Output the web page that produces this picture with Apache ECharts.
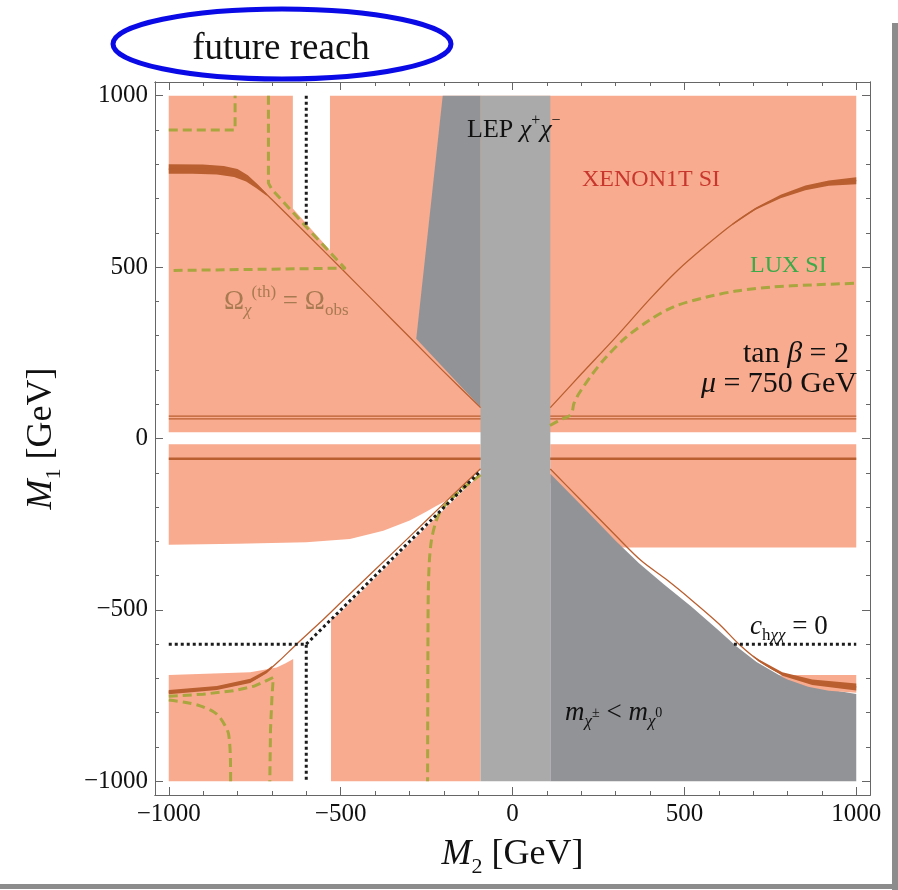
<!DOCTYPE html>
<html><head><meta charset="utf-8">
<script src="https://cdn.jsdelivr.net/npm/echarts@6/dist/echarts.min.js"></script>
<style>html,body{margin:0;padding:0;background:#fff}#c{width:898px;height:890px}</style>
</head><body><div id="c"></div>
<script>
// ---------------- data (GeV) ----------------
const majorTicks = [-1000, -500, 0, 500, 1000];
const minorTicks = [-1000,-900,-800,-700,-600,-500,-400,-300,-200,-100,0,100,200,300,400,500,600,700,800,900,1000];

// XENON1T SI excluded regions (salmon)
const salmonUpper = [[-1000,18],[-1000,1000],[-639,1000],[-639,671],[-531,549],[-531,1000],[1000,1000],[1000,18]];
const salmonMidLeft = [[-1000,-17],[-93,-17],[-93,-90],[-150,-145],[-190,-180],[-222,-197],[-250,-213],[-299,-239],[-376,-269],[-473,-293],[-600,-303],[-800,-307],[-1000,-310]];
const salmonMidRight = [[110,-17],[1000,-17],[1000,-318],[318,-318],[300,-330],[110,-130]];
const salmonLowA = [[-1000,-1000],[-638,-1000],[-638,-643],[-660,-656],[-686,-668],[-763,-682],[-1000,-690]];
const salmonLowB = [[-528,-1000],[-93,-1000],[-93,-103],[-200,-208],[-300,-308],[-400,-408],[-510,-517],[-522,-522],[-528,-528]];
const salmonStrip = [[782,-690],[1000,-690],[1000,-742],[920,-736],[860,-724],[800,-703],[782,-694]];

// LEP chargino band and m_chi+ < m_chi0 region
const lepBand = [[-93,-1000],[110,-1000],[110,1000],[-93,1000]];
const grayUpper = [[-203,1000],[-93,1000],[-93,91],[-280,291]];
const grayLower = [[110,-103],[200,-195],[300,-298],[368,-364],[440,-425],[520,-490],[600,-560],[650,-605],[710,-652],[775,-690],[860,-722],[1000,-745],[1000,-1000],[110,-1000]];

// relic density line (Omega_chi = Omega_obs)
const relicUL = [[-1000,786],[-900,785],[-840,781],[-800,773],[-770,758],[-740,735],[-700,697],[-600,598],[-500,498],[-400,397],[-300,296],[-200,195],[-93,90]];
const relicUR = [[110,90],[200,188],[300,295],[398,405],[480,490],[562,562],[640,625],[707,670],[780,706],[852,731],[920,745],[1000,752]];
const relicLR = [[110,-89],[200,-181],[300,-283],[374,-356],[446,-410],[523,-473],[601,-541],[659,-600],[717,-648],[785,-687],[872,-711],[1000,-725]];
const relicLL = [[-93,-88],[-200,-190],[-300,-287],[-400,-383],[-500,-479],[-560,-537],[-628,-600],[-680,-650],[-715,-680],[-763,-707],[-860,-728],[-1000,-740]];
const relicBandUL = [[-1000,800],[-900,799],[-840,795],[-800,786],[-770,768],[-740,740],[-715,714],[-715,708],[-745,730],[-775,750],[-810,763],[-860,770],[-930,772],[-1000,772]];
const relicBandUR = [[640,627],[707,673],[780,711],[852,738],[920,753],[1000,762],[1000,742],[920,737],[852,724],[780,701],[707,667],[640,623]];
const relicBandLR = [[700,-633],[717,-645],[785,-682],[872,-703],[1000,-715],[1000,-735],[872,-719],[785,-692],[717,-651],[700,-637]];
const relicBandLL = [[-1000,-734],[-860,-722],[-763,-701],[-715,-675],[-700,-664],[-700,-670],[-715,-685],[-763,-713],[-860,-734],[-1000,-746]];
const relicH1 = [[-1000,65],[1000,65]];
const relicH2 = [[-1000,57],[1000,57]];
const relicH3 = [[-1000,-59],[1000,-59]];

// LUX SI limit (dashed)
const luxUL1 = [[-1000,900],[-807,900],[-807,1000]];
const luxUL2 = [[-710,1000],[-710,745],[-700,727],[-600,617],[-488,497],[-1000,490]];
const luxR = [[109,38],[140,55],[165,66],[174,80],[178,100],[188,122],[199,140],[230,185],[272,237],[330,295],[398,345],[470,385],[562,412],[650,430],[755,442],[870,448],[1000,453]];
const luxLLdiag = [[-93,-106],[-140,-142],[-183,-181],[-210,-213],[-225,-250],[-236,-298],[-242,-360],[-245,-450],[-246,-600],[-247,-1000]];
const luxLL1 = [[-1000,-752],[-900,-746],[-812,-736],[-750,-722],[-725,-711],[-696,-697],[-700,-760],[-704,-850],[-706,-1000]];
const luxLL2 = [[-1000,-763],[-950,-770],[-909,-780],[-870,-797],[-851,-814],[-835,-840],[-826,-862],[-821,-920],[-820,-1000]];

// c_hchichi = 0 (dotted)
const blindUL = [[-600,1000],[-600,617]];
const blindLL = [[-1000,-600],[-600,-600],[-600,-1000]];
const blindDiag = [[-600,-600],[-96,-98]];
const blindLR = [[644,-600],[1000,-600]];

// ---------------- styles ----------------
const SERIF = "'Liberation Serif','Times New Roman',serif";
const C_SALMON = '#F9AB8F', C_LEP = '#A9AAA9', C_DARK = '#929397';
const C_BROWN = '#B95F30', C_GREEN = '#A9A53F', C_DOT = '#1c1c1c', C_FRAME = '#666';

function polySeries(name, polys, color, z) {
  return {
    type: 'custom', name, z, silent: true, animation: false, clip: true,
    xAxisIndex: 0, yAxisIndex: 0,
    data: polys.map(p => p[0]),
    renderItem: function (params, api) {
      const pts = polys[params.dataIndex].map(p => api.coord(p));
      return { type: 'polygon', shape: { points: pts }, style: { fill: color, stroke: null } };
    }
  };
}
function lineSeries(name, pts, color, width, dash, z, smooth) {
  return {
    type: 'line', name, data: pts, symbol: 'none', smooth: smooth || false, z, silent: true,
    animation: false, clip: true, xAxisIndex: 0, yAxisIndex: 0,
    lineStyle: { color, width, type: dash || 'solid', cap: 'butt', join: 'round' }
  };
}
const fmt = v => String(v).replace('-', '\u2212');
function axis(pos, ticks, len, labels) {
  return {
    type: 'value', min: -1040, max: 1040, position: pos, gridIndex: 0,
    axisLine: { show: true, onZero: false, lineStyle: { color: C_FRAME, width: 1 } },
    axisTick: { show: true, inside: true, length: len, customValues: ticks, lineStyle: { color: C_FRAME, width: 1 } },
    axisLabel: labels ? { show: true, customValues: majorTicks, formatter: fmt, fontFamily: SERIF, fontSize: 25, color: '#111', margin: 7 } : { show: false },
    splitLine: { show: false }, minorTick: { show: false }
  };
}
function richSet(size, color, isLabel) {
  const c = isLabel ? 'color' : 'fill';
  const sm = Math.round(size * 0.62);
  const base = { fontFamily: SERIF, fontSize: size, lineHeight: Math.round(size * 1.3) }; base[c] = color;
  const small = { fontFamily: SERIF, fontSize: sm, lineHeight: Math.round(sm * 1.4) }; small[c] = color;
  return {
    a: base,
    i: Object.assign({}, base, { fontStyle: 'italic' }),
    s: Object.assign({}, small, { verticalAlign: 'bottom' }),
    si: Object.assign({}, small, { verticalAlign: 'bottom', fontStyle: 'italic' }),
    u: Object.assign({}, small, { verticalAlign: 'top', lineHeight: sm }),
    ui: Object.assign({}, small, { verticalAlign: 'top', fontStyle: 'italic', lineHeight: sm }),
    m: Object.assign({}, small, { verticalAlign: 'middle', fontSize: Math.round(size * 0.5) })
  };
}
function label(x, y, text, size, color, align) {
  return { type: 'text', x, y, z: 100, silent: true,
    style: { text, rich: richSet(size, color, false), align: align || 'left', verticalAlign: 'middle', fontFamily: SERIF, fontSize: size, fill: color } };
}

const chart = echarts.init(document.getElementById('c'), null, { renderer: 'canvas' });
chart.setOption({
  animation: false,
  backgroundColor: '#fff',
  grid: { left: 155, right: 28, top: 82, bottom: 95, containLabel: false, outerBoundsMode: 'none' },
  xAxis: [
    Object.assign(axis('bottom', majorTicks, 8, true), {
      name: '{i|M}{s|2}{a| [GeV]}', nameLocation: 'middle', nameGap: 36,
      nameTextStyle: { rich: richSet(36, '#111', true) } }),
    axis('bottom', minorTicks, 4, false),
    axis('top', majorTicks, 8, false),
    axis('top', minorTicks, 4, false)
  ],
  yAxis: [
    Object.assign(axis('left', majorTicks, 8, true), {
      name: '{i|M}{s|1}{a| [GeV]}', nameLocation: 'middle', nameGap: 90, nameRotate: 90,
      nameTextStyle: { rich: richSet(36, '#111', true) } }),
    axis('left', minorTicks, 4, false),
    axis('right', majorTicks, 8, false),
    axis('right', minorTicks, 4, false)
  ],
  series: [
    polySeries('XENON1T SI', [salmonUpper, salmonMidLeft, salmonMidRight, salmonLowA, salmonLowB], C_SALMON, 1),
    lineSeries('relicH1', relicH1, C_BROWN, 1.2, 'solid', 2),
    lineSeries('relicH2', relicH2, C_BROWN, 1.2, 'solid', 2),
    lineSeries('relicH3', relicH3, C_BROWN, 2.4, 'solid', 2),
    polySeries('m_chi+ < m_chi0', [grayUpper, grayLower], C_DARK, 3),
    polySeries('LEP', [lepBand], C_LEP, 3),
    polySeries('XENON1T SI strip', [salmonStrip], C_SALMON, 4),
    polySeries('relic bands', [relicBandUL, relicBandUR, relicBandLR, relicBandLL], C_BROWN, 5),
    lineSeries('relicUL', relicUL, C_BROWN, 1.3, 'solid', 5, 0.3),
    lineSeries('relicUR', relicUR, C_BROWN, 1.3, 'solid', 5, 0.3),
    lineSeries('relicLR', relicLR, C_BROWN, 1.3, 'solid', 5, 0.3),
    lineSeries('relicLL', relicLL, C_BROWN, 1.3, 'solid', 5, 0.3),
    lineSeries('luxUL1', luxUL1, C_GREEN, 3, [9, 5], 6),
    lineSeries('luxUL2', luxUL2, C_GREEN, 3, [9, 5], 6),
    lineSeries('luxR', luxR, C_GREEN, 3, [9, 5], 6, 0.3),
    lineSeries('luxLLdiag', luxLLdiag, C_GREEN, 3, [9, 5], 6, 0.3),
    lineSeries('luxLL1', luxLL1, C_GREEN, 3, [9, 5], 6),
    lineSeries('luxLL2', luxLL2, C_GREEN, 3, [9, 5], 6, 0.3),
    lineSeries('blindUL', blindUL, C_DOT, 3, [3, 3], 7),
    lineSeries('blindLL', blindLL, C_DOT, 3, [3, 3], 7),
    lineSeries('blindDiag', blindDiag, C_DOT, 3, [3, 3], 7),
    lineSeries('blindLR', blindLR, C_DOT, 3, [3, 3], 7)
  ],
  graphic: [
    { type: 'rect', silent: true, z: 100, shape: { x: 892, y: 23, width: 6, height: 867 }, style: { fill: '#8C8C8C' } },
    { type: 'rect', silent: true, z: 100, shape: { x: 0, y: 884, width: 898, height: 5 }, style: { fill: '#8C8C8C' } },
    { type: 'ellipse', silent: true, z: 100, shape: { cx: 282, cy: 44, rx: 169, ry: 35 }, style: { fill: 'none', stroke: '#0A0AE6', lineWidth: 5 } },
    label(281, 49, '{a|future reach}', 37, '#111', 'center'),
    label(467, 130, '{a|LEP }{i|χ}{u|+}{i|χ}{u|−}', 26, '#111'),
    label(582, 180, '{a|XENON1T SI}', 24, '#C8372D'),
    label(750, 266, '{a|LUX SI}', 24, '#3BAA48'),
    label(849, 354, '{a|tan }{i|β}{a| = 2}', 30, '#111', 'right'),
    label(857, 384, '{i|μ}{a| = 750 GeV}', 30, '#111', 'right'),
    label(224, 302, '{a|Ω}{si|χ}{u|(th)}{a| = Ω}{s|obs}', 27, '#A87A52'),
    label(750, 627, '{i|c}{s|h}{si|χχ}{a| = 0}', 27, '#111'),
    label(565, 713, '{i|m}{si|χ}{m|±}{a| < }{i|m}{si|χ}{m|0}', 27, '#111')
  ]
});
</script></body></html>
